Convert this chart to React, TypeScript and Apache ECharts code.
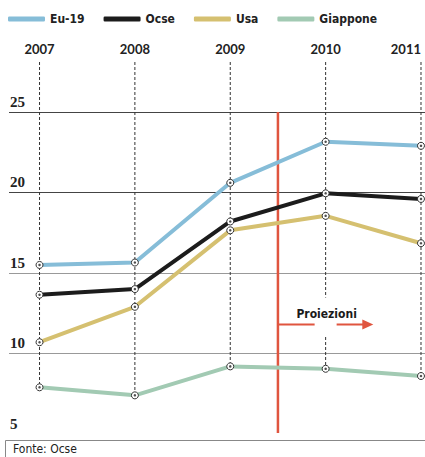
import React, { useEffect, useRef } from "react";
import * as echarts from "echarts";

const years = [2007, 2008, 2009, 2010, 2011];
const eu19 = [15.5, 15.65, 20.6, 23.15, 22.9];
const ocse = [13.65, 14.0, 18.2, 19.95, 19.6];
const usa = [10.7, 12.9, 17.65, 18.55, 16.85];
const giappone = [7.9, 7.4, 9.2, 9.05, 8.6];
const yTicks = [5, 10, 15, 20, 25];
const projectionStart = 2009.5;
const projectionEnd = 2010.5;
const projectionLevel = 11.8;
const projectionLabel = "Proiezioni";
const sourceText = "Fonte: Ocse";

const seriesDefs = [
  { name: "Eu-19", data: eu19, color: "#86bdd8" },
  { name: "Ocse", data: ocse, color: "#1c1c1c" },
  { name: "Usa", data: usa, color: "#d5c070" },
  { name: "Giappone", data: giappone, color: "#a2cab3" },
];

export default function App() {
  const ref = useRef<HTMLDivElement>(null);
  useEffect(() => {
    if (!ref.current) return;
    const chart = echarts.init(ref.current, undefined, { renderer: "svg" });
    const condensed = "DejaVu Sans Condensed";
    const lineSeries = seriesDefs.map((s) => ({
      type: "line",
      name: s.name,
      data: years.map((y, i) => [y, s.data[i]]),
      z: 3,
      lineStyle: { color: s.color, width: 4 },
      itemStyle: { color: "#fff", borderColor: "#333", borderWidth: 1 },
      symbol: "circle",
      symbolSize: 7,
      showSymbol: true,
    }));
    const dots: number[][] = [];
    seriesDefs.forEach((s) => years.forEach((y, i) => dots.push([y, s.data[i]])));

    const option: any = {
      animation: false,
      backgroundColor: "#fff",
      grid: { left: 9, right: 0, top: 112, bottom: 23 },
      legend: {
        left: 3,
        top: 8,
        icon: "roundRect",
        itemWidth: 37,
        itemHeight: 5,
        itemGap: 19,
        itemStyle: { borderWidth: 0 },
        textStyle: { fontFamily: condensed, fontWeight: "bold", fontSize: 12, color: "#222" },
        data: seriesDefs.map((s) => ({
          name: s.name,
          itemStyle: { color: s.color, borderWidth: 0 },
        })),
      },
      xAxis: {
        type: "value",
        min: 2006.68,
        max: 2011.042,
        position: "top",
        axisLine: { show: false },
        axisTick: { show: false },
        splitLine: { show: false },
        axisLabel: {
          customValues: years,
          margin: 57,
          alignMaxLabel: "right",
          fontFamily: "Lato",
          fontWeight: "bold",
          fontSize: 13,
          color: "#222",
          formatter: (v: number) => String(v),
        },
      },
      yAxis: {
        type: "value",
        min: yTicks[0],
        max: yTicks[yTicks.length - 1],
        interval: 5,
        axisLine: { show: false },
        axisTick: { show: false },
        axisLabel: {
          inside: true,
          margin: 1,
          align: "left",
          verticalAlign: "bottom",
          padding: [0, 0, 3, 0],
          fontFamily: "Liberation Serif",
          fontWeight: "bold",
          fontSize: 15,
          color: "#222",
        },
        splitLine: {
          lineStyle: { color: ["rgba(0,0,0,0)", "#999", "#999", "#444", "#444"], width: 1 },
        },
      },
      series: [
        {
          type: "custom",
          z: 1,
          silent: true,
          data: years.map((y, i) => [y, giappone[i]]),
          renderItem: (params: any, api: any) => {
            const p = api.coord([api.value(0), api.value(1)]);
            const top = api.coord([api.value(0), yTicks[yTicks.length - 1]])[1] - 50;
            return {
              type: "line",
              shape: { x1: p[0], y1: top, x2: p[0], y2: p[1] },
              style: { stroke: "#333", lineWidth: 1, lineDash: [3, 2] },
            };
          },
        },
        {
          type: "custom",
          z: 2,
          silent: true,
          data: [[projectionStart, projectionLevel, projectionEnd]],
          renderItem: (params: any, api: any) => {
            const x0 = api.value(0);
            const lvl = api.value(1);
            const x1 = api.value(2);
            const top = api.coord([x0, yTicks[yTicks.length - 1]]);
            const bot = api.coord([x0, yTicks[0]]);
            const a = api.coord([x0, lvl]);
            const b = api.coord([x1, lvl]);
            const mid = api.coord([(x0 + x1) / 2, lvl]);
            const red = "#e0553f";
            return {
              type: "group",
              children: [
                {
                  type: "line",
                  shape: { x1: top[0], y1: top[1], x2: bot[0], y2: bot[1] - 1 },
                  style: { stroke: red, lineWidth: 2.5 },
                },
                {
                  type: "line",
                  shape: { x1: a[0], y1: a[1], x2: b[0] - 8, y2: b[1] },
                  style: { stroke: red, lineWidth: 2 },
                },
                {
                  type: "polygon",
                  shape: { points: [[b[0], b[1]], [b[0] - 11, b[1] - 5], [b[0] - 11, b[1] + 5]] },
                  style: { fill: red },
                },
                {
                  type: "rect",
                  shape: { x: mid[0] - 11, y: mid[1] - 27, width: 22, height: 38 },
                  style: { fill: "#fff" },
                },
                {
                  type: "text",
                  x: mid[0] + 1,
                  y: mid[1] - 11,
                  style: {
                    text: projectionLabel,
                    fill: "#1a1a1a",
                    font: `bold 12px "${condensed}"`,
                    align: "center",
                    verticalAlign: "middle",
                  },
                },
              ],
            };
          },
        },
        ...lineSeries,
        {
          type: "scatter",
          z: 4,
          silent: true,
          data: dots,
          symbol: "circle",
          symbolSize: 2.5,
          itemStyle: { color: "#222" },
        },
      ],
      graphic: [
        {
          type: "rect",
          left: 5,
          top: 440,
          shape: { width: 425, height: 22 },
          style: { fill: "#fff", stroke: "#888", lineWidth: 1 },
        },
        {
          type: "text",
          left: 13,
          top: 443,
          style: { text: sourceText, fill: "#222", font: `12px "${condensed}"` },
        },
      ],
    };
    chart.setOption(option);
    return () => chart.dispose();
  }, []);
  return (
    <div
      ref={ref}
      style={{ position: "fixed", left: 0, top: 0, width: 425, height: 457 }}
    />
  );
}
